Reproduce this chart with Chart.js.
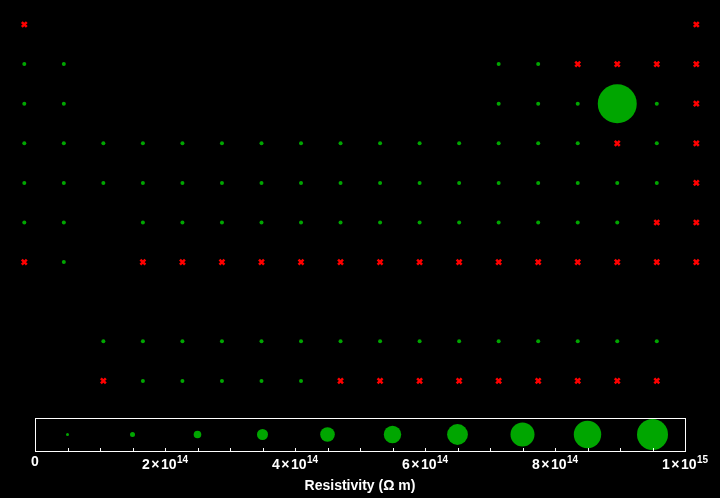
<!DOCTYPE html>
<html>
<head>
<meta charset="utf-8">
<script src="https://cdn.jsdelivr.net/npm/chart.js@4.4.1/dist/chart.umd.min.js"></script>
<style>
  html, body { margin: 0; padding: 0; background: #000; }
  #wrap { position: relative; width: 720px; height: 498px; background: #000; }
  #grid-chart { position: absolute; left: 0; top: 0; }
  #scale-chart { position: absolute; left: 0; top: 410px; }
</style>
</head>
<body>
<div id="wrap">
  <canvas id="grid-chart" width="720" height="410"></canvas>
  <canvas id="scale-chart" width="720" height="88"></canvas>
</div>
<script>
// one string per grid row, one char per column
// o = ok reading, x = failed, B = the large reading, . = empty
const rowPatterns = [
  'x................x',
  'oo..........ooxxxx',
  'oo..........oooBox',
  'oooooooooooooooxox',
  'ooooooooooooooooox',
  'oo.oooooooooooooxx',
  'xo.xxxxxxxxxxxxxxx',
  '..................',
  '..ooooooooooooooo.',
  '..xoooooxxxxxxxxx.'
];
const bigRadius = 19.5;

// size legend along the resistivity axis
const legendValues = [0.5e14, 1.5e14, 2.5e14, 3.5e14, 4.5e14, 5.5e14, 6.5e14, 7.5e14, 8.5e14, 9.5e14];
const legendRadii = [1.5, 2.5, 3.8, 5.5, 7.3, 8.7, 10.4, 12, 13.7, 15.5];

const tickValues = [0, 2e14, 4e14, 6e14, 8e14, 1e15];
const tickMantissa = ['0', '2×10', '4×10', '6×10', '8×10', '1×10'];
const tickExponent = ['', '14', '14', '14', '14', '15'];

const green = '#00a600';
const red = '#ff0000';
const fontFamily = '"Liberation Sans", Arial, Helvetica, sans-serif';

const okPoints = [];
const failPoints = [];
const bigPoints = [];
rowPatterns.forEach((row, r) => {
  row.split('').forEach((c, col) => {
    if (c === 'o') okPoints.push({ x: col, y: r });
    if (c === 'x') failPoints.push({ x: col, y: r });
    if (c === 'B') bigPoints.push({ x: col, y: r, r: bigRadius });
  });
});

new Chart(document.getElementById('grid-chart'), {
  type: 'scatter',
  data: {
    datasets: [
      { label: 'ok', data: okPoints, pointRadius: 2, pointBackgroundColor: green, pointBorderWidth: 0 },
      { label: 'failed', data: failPoints, pointStyle: 'crossRot', pointRadius: 3.5, pointBorderColor: red, pointBorderWidth: 2.5 },
      { type: 'bubble', label: 'big', data: bigPoints, backgroundColor: green, borderWidth: 0 }
    ]
  },
  options: {
    responsive: false,
    animation: false,
    devicePixelRatio: 1,
    layout: { autoPadding: false, padding: 0 },
    plugins: { legend: { display: false }, tooltip: { enabled: false } },
    scales: {
      x: { type: 'linear', display: false, min: -0.6147, max: 17.599 },
      y: { type: 'linear', display: false, reverse: true, min: -0.6187, max: 9.7348 }
    }
  }
});

// draws "2×10" with a little room around the times sign
function drawMantissa(ctx, text, x, y, measureOnly) {
  const pad = 1.5;
  let w = 0;
  text.split('').forEach(ch => {
    const cw = ctx.measureText(ch).width;
    if (ch === '×') w += pad;
    if (!measureOnly) ctx.fillText(ch, x + w, y);
    w += cw;
    if (ch === '×') w += pad;
  });
  return w;
}

const boxPlugin = {
  id: 'box',
  afterDraw(chart) {
    const ctx = chart.ctx;
    const a = chart.chartArea;
    const sx = chart.scales.x;
    ctx.save();
    ctx.strokeStyle = '#fff';
    ctx.lineWidth = 1;
    ctx.strokeRect(a.left + 0.5, a.top + 0.5, a.right - a.left, a.bottom - a.top);

    // small ticks pointing up into the box
    ctx.beginPath();
    sx.ticks.forEach(t => {
      if (t.value <= 0 || t.value >= 1e15) return;
      const x = Math.round(sx.getPixelForValue(t.value)) + 0.5;
      ctx.moveTo(x, a.bottom + 0.5);
      ctx.lineTo(x, a.bottom - 3);
    });
    ctx.stroke();

    // labels with superscript exponent
    ctx.fillStyle = '#fff';
    ctx.textBaseline = 'alphabetic';
    ctx.textAlign = 'left';
    const main = 'bold 14px ' + fontFamily;
    const sup = 'bold 10px ' + fontFamily;
    tickValues.forEach((v, i) => {
      const x = sx.getPixelForValue(v);
      ctx.font = main;
      const w1 = drawMantissa(ctx, tickMantissa[i], 0, 0, true);
      ctx.font = sup;
      const w2 = tickExponent[i] ? ctx.measureText(tickExponent[i]).width + 0.5 : 0;
      const x0 = x - (w1 + w2) / 2;
      const base = tickExponent[i] ? a.bottom + 18 : a.bottom + 15;
      ctx.font = main;
      drawMantissa(ctx, tickMantissa[i], x0, base, false);
      if (tickExponent[i]) {
        ctx.font = sup;
        ctx.fillText(tickExponent[i], x0 + w1 + 0.5, base - 6.5);
      }
    });
    ctx.restore();
  }
};

new Chart(document.getElementById('scale-chart'), {
  type: 'bubble',
  data: {
    datasets: [{
      label: 'size',
      data: legendValues.map((v, i) => ({ x: v, y: 0.5, r: legendRadii[i] })),
      backgroundColor: green,
      borderWidth: 0
    }]
  },
  options: {
    responsive: false,
    animation: false,
    devicePixelRatio: 1,
    layout: { autoPadding: false, padding: { left: 35, right: 35, top: 8, bottom: 0 } },
    plugins: { legend: { display: false }, tooltip: { enabled: false } },
    scales: {
      x: {
        type: 'linear',
        min: 0,
        max: 1e15,
        ticks: { display: false, stepSize: 5e13 },
        grid: { display: false },
        border: { display: false },
        title: {
          display: true,
          text: 'Resistivity (Ω m)',
          color: '#fff',
          font: { family: fontFamily, weight: 'bold', size: 14 },
          padding: { top: 0, bottom: 3.5 }
        },
        afterFit: s => { s.height = 47; }
      },
      y: { display: false, min: 0, max: 1 }
    }
  },
  plugins: [boxPlugin]
});
</script>
</body>
</html>
